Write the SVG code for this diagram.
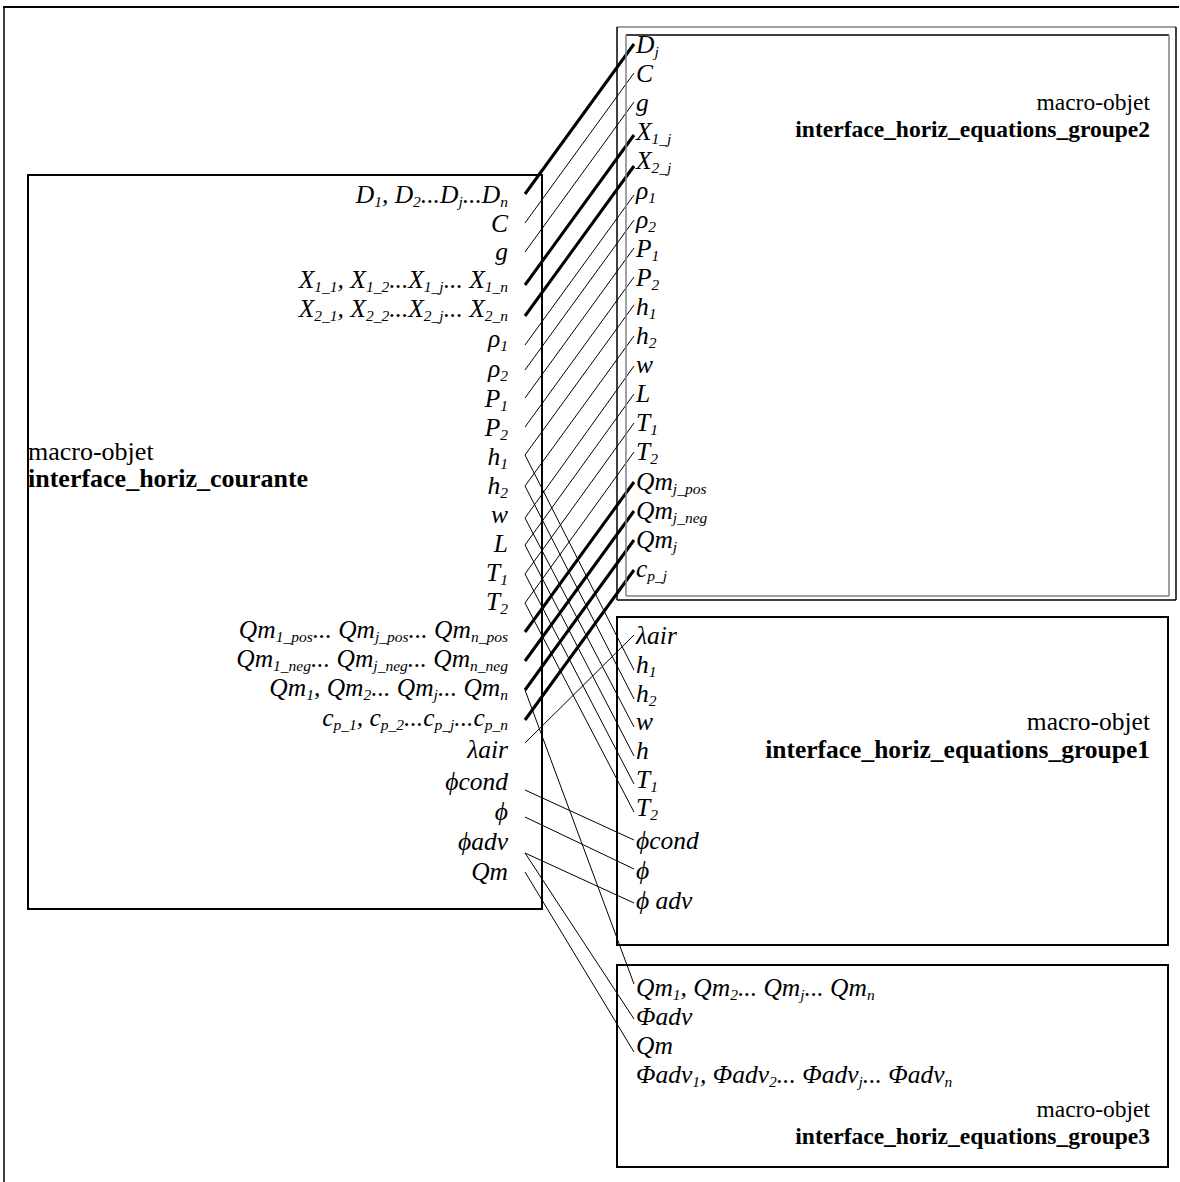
<svg xmlns="http://www.w3.org/2000/svg" width="1180" height="1182" viewBox="0 0 1180 1182">
<style>
text{font-family:'Liberation Serif','DejaVu Serif',serif;font-size:25.5px;fill:#000}
.i{font-style:italic}
.r{text-anchor:end}
.bd{font-weight:bold}
.t2{font-size:23.5px}
.t1{font-size:25.5px}
.t0{font-size:26px}
.s{font-size:15.5px}
.box{fill:none;stroke:#000;stroke-width:2}
.thin{stroke:#000;stroke-width:1;fill:none}
.thick{stroke:#000;stroke-width:3;fill:none}
.g{stroke:#808080;stroke-width:1.5}
.k{stroke:#000;stroke-width:1.5}
</style>
<rect width="1180" height="1182" fill="#fff"/>
<g id="frame">
<line x1="3" y1="7" x2="1179" y2="7" stroke="#000" stroke-width="2"/>
<line x1="4" y1="7" x2="4" y2="1182" stroke="#000" stroke-width="1.5"/>
</g>
<g id="connectors">
<line class="thick" x1="525" y1="194" x2="634" y2="44"/>
<line class="thin" x1="525" y1="223" x2="634" y2="73"/>
<line class="thin" x1="525" y1="252" x2="634" y2="102"/>
<line class="thick" x1="525" y1="285" x2="634" y2="135"/>
<line class="thick" x1="525" y1="316" x2="634" y2="166"/>
<line class="thin" x1="525" y1="345" x2="634" y2="195"/>
<line class="thin" x1="525" y1="370" x2="634" y2="220"/>
<line class="thin" x1="525" y1="398" x2="634" y2="248"/>
<line class="thin" x1="525" y1="427" x2="634" y2="277"/>
<line class="thin" x1="525" y1="455" x2="634" y2="305"/>
<line class="thin" x1="525" y1="486" x2="634" y2="336"/>
<line class="thin" x1="525" y1="518" x2="634" y2="366"/>
<line class="thin" x1="525" y1="545" x2="634" y2="394"/>
<line class="thin" x1="525" y1="574" x2="634" y2="423"/>
<line class="thin" x1="525" y1="603" x2="634" y2="452"/>
<line class="thick" x1="525" y1="632" x2="634" y2="482"/>
<line class="thick" x1="525" y1="661" x2="634" y2="511"/>
<line class="thick" x1="525" y1="690" x2="634" y2="540"/>
<line class="thick" x1="525" y1="720" x2="634" y2="570"/>
<line class="thin" x1="525" y1="743" x2="634" y2="635"/>
<line class="thin" x1="525" y1="455" x2="634" y2="670"/>
<line class="thin" x1="525" y1="486" x2="634" y2="699"/>
<line class="thin" x1="525" y1="518" x2="634" y2="727"/>
<line class="thin" x1="525" y1="545" x2="634" y2="756"/>
<line class="thin" x1="525" y1="574" x2="634" y2="784"/>
<line class="thin" x1="525" y1="603" x2="634" y2="812"/>
<line class="thin" x1="525" y1="790" x2="634" y2="840"/>
<line class="thin" x1="525" y1="817" x2="634" y2="869"/>
<line class="thin" x1="525" y1="853" x2="634" y2="903"/>
<line class="thin" x1="525" y1="690" x2="634" y2="984"/>
<line class="thin" x1="525" y1="853" x2="634" y2="1019"/>
<line class="thin" x1="525" y1="872" x2="634" y2="1052"/>
</g>
<g id="courante">
<rect class="box" x="28" y="175" width="514" height="734"/>
<text class="t0" x="28" y="460">macro-objet</text>
<text class="t0 bd" x="28" y="487">interface_horiz_courante</text>
<text class="i r" x="508" y="203">D<tspan class="s" dy="4">1</tspan><tspan dy="-4">, D</tspan><tspan class="s" dy="4">2</tspan><tspan dy="-4">...D</tspan><tspan class="s" dy="4">j</tspan><tspan dy="-4">...D</tspan><tspan class="s" dy="4">n</tspan></text>
<text class="i r" x="508" y="232">C</text>
<text class="i r" x="508" y="260">g</text>
<text class="i r" x="508" y="288">X<tspan class="s" dy="4">1_1</tspan><tspan dy="-4">, X</tspan><tspan class="s" dy="4">1_2</tspan><tspan dy="-4">...X</tspan><tspan class="s" dy="4">1_j</tspan><tspan dy="-4">... X</tspan><tspan class="s" dy="4">1_n</tspan></text>
<text class="i r" x="508" y="317">X<tspan class="s" dy="4">2_1</tspan><tspan dy="-4">, X</tspan><tspan class="s" dy="4">2_2</tspan><tspan dy="-4">...X</tspan><tspan class="s" dy="4">2_j</tspan><tspan dy="-4">... X</tspan><tspan class="s" dy="4">2_n</tspan></text>
<text class="i r" x="508" y="347">ρ<tspan class="s" dy="4">1</tspan></text>
<text class="i r" x="508" y="377">ρ<tspan class="s" dy="4">2</tspan></text>
<text class="i r" x="508" y="407">P<tspan class="s" dy="4">1</tspan></text>
<text class="i r" x="508" y="436">P<tspan class="s" dy="4">2</tspan></text>
<text class="i r" x="508" y="465">h<tspan class="s" dy="4">1</tspan></text>
<text class="i r" x="508" y="494">h<tspan class="s" dy="4">2</tspan></text>
<text class="i r" x="508" y="523">w</text>
<text class="i r" x="508" y="552">L</text>
<text class="i r" x="508" y="581">T<tspan class="s" dy="4">1</tspan></text>
<text class="i r" x="508" y="610">T<tspan class="s" dy="4">2</tspan></text>
<text class="i r" x="508" y="638">Qm<tspan class="s" dy="4">1_pos</tspan><tspan dy="-4">... Qm</tspan><tspan class="s" dy="4">j_pos</tspan><tspan dy="-4">... Qm</tspan><tspan class="s" dy="4">n_pos</tspan></text>
<text class="i r" x="508" y="667">Qm<tspan class="s" dy="4">1_neg</tspan><tspan dy="-4">... Qm</tspan><tspan class="s" dy="4">j_neg</tspan><tspan dy="-4">... Qm</tspan><tspan class="s" dy="4">n_neg</tspan></text>
<text class="i r" x="508" y="696">Qm<tspan class="s" dy="4">1</tspan><tspan dy="-4">, Qm</tspan><tspan class="s" dy="4">2</tspan><tspan dy="-4">... Qm</tspan><tspan class="s" dy="4">j</tspan><tspan dy="-4">... Qm</tspan><tspan class="s" dy="4">n</tspan></text>
<text class="i r" x="508" y="726">c<tspan class="s" dy="4">p_1</tspan><tspan dy="-4">, c</tspan><tspan class="s" dy="4">p_2</tspan><tspan dy="-4">...c</tspan><tspan class="s" dy="4">p_j</tspan><tspan dy="-4">...c</tspan><tspan class="s" dy="4">p_n</tspan></text>
<text class="i r" x="508" y="758">λair</text>
<text class="i r" x="508" y="790">ϕcond</text>
<text class="i r" x="508" y="820">ϕ</text>
<text class="i r" x="508" y="850">ϕadv</text>
<text class="i r" x="508" y="880">Qm</text>
</g>
<g id="groupe2">
<line class="g" x1="617" y1="27" x2="1176" y2="27"/>
<line class="k" x1="617" y1="27" x2="617" y2="600"/>
<line class="k" x1="617" y1="600" x2="1176" y2="600"/>
<line class="k" x1="1176" y1="27" x2="1176" y2="600"/>
<line class="k" x1="626" y1="35" x2="1169" y2="35"/>
<line class="g" x1="626" y1="35" x2="626" y2="596"/>
<line class="g" x1="626" y1="596" x2="1169" y2="596"/>
<line class="g" x1="1169" y1="35" x2="1169" y2="596"/>
<text class="r t2" x="1150" y="110">macro-objet</text>
<text class="r bd t2" x="1150" y="137">interface_horiz_equations_groupe2</text>
<text class="i" x="636" y="53">D<tspan class="s" dy="4">j</tspan></text>
<text class="i" x="636" y="82">C</text>
<text class="i" x="636" y="111">g</text>
<text class="i" x="636" y="140">X<tspan class="s" dy="4">1_j</tspan></text>
<text class="i" x="636" y="169">X<tspan class="s" dy="4">2_j</tspan></text>
<text class="i" x="636" y="199">ρ<tspan class="s" dy="4">1</tspan></text>
<text class="i" x="636" y="228">ρ<tspan class="s" dy="4">2</tspan></text>
<text class="i" x="636" y="257">P<tspan class="s" dy="4">1</tspan></text>
<text class="i" x="636" y="286">P<tspan class="s" dy="4">2</tspan></text>
<text class="i" x="636" y="315">h<tspan class="s" dy="4">1</tspan></text>
<text class="i" x="636" y="344">h<tspan class="s" dy="4">2</tspan></text>
<text class="i" x="636" y="373">w</text>
<text class="i" x="636" y="402">L</text>
<text class="i" x="636" y="431">T<tspan class="s" dy="4">1</tspan></text>
<text class="i" x="636" y="460">T<tspan class="s" dy="4">2</tspan></text>
<text class="i" x="636" y="490">Qm<tspan class="s" dy="4">j_pos</tspan></text>
<text class="i" x="636" y="519">Qm<tspan class="s" dy="4">j_neg</tspan></text>
<text class="i" x="636" y="548">Qm<tspan class="s" dy="4">j</tspan></text>
<text class="i" x="636" y="577">c<tspan class="s" dy="4">p_j</tspan></text>
</g>
<g id="groupe1">
<rect class="box" x="617" y="617" width="551" height="328"/>
<text class="r t1" x="1150" y="730">macro-objet</text>
<text class="r bd t1" x="1150" y="758">interface_horiz_equations_groupe1</text>
<text class="i" x="636" y="644">λair</text>
<text class="i" x="636" y="673">h<tspan class="s" dy="4">1</tspan></text>
<text class="i" x="636" y="702">h<tspan class="s" dy="4">2</tspan></text>
<text class="i" x="636" y="730">w</text>
<text class="i" x="636" y="759">h</text>
<text class="i" x="636" y="788">T<tspan class="s" dy="4">1</tspan></text>
<text class="i" x="636" y="816">T<tspan class="s" dy="4">2</tspan></text>
<text class="i" x="636" y="849">ϕcond</text>
<text class="i" x="636" y="879">ϕ</text>
<text class="i" x="636" y="909">ϕ adv</text>
</g>
<g id="groupe3">
<rect class="box" x="617" y="965" width="551" height="202"/>
<text class="i" x="636" y="996">Qm<tspan class="s" dy="4">1</tspan><tspan dy="-4">, Qm</tspan><tspan class="s" dy="4">2</tspan><tspan dy="-4">... Qm</tspan><tspan class="s" dy="4">j</tspan><tspan dy="-4">... Qm</tspan><tspan class="s" dy="4">n</tspan></text>
<text class="i" x="636" y="1025">Φadv</text>
<text class="i" x="636" y="1054">Qm</text>
<text class="i" x="636" y="1083">Φadv<tspan class="s" dy="4">1</tspan><tspan dy="-4">, Φadv</tspan><tspan class="s" dy="4">2</tspan><tspan dy="-4">... Φadv</tspan><tspan class="s" dy="4">j</tspan><tspan dy="-4">... Φadv</tspan><tspan class="s" dy="4">n</tspan></text>
<text class="r t2" x="1150" y="1117">macro-objet</text>
<text class="r bd t2" x="1150" y="1144">interface_horiz_equations_groupe3</text>
</g>
</svg>
